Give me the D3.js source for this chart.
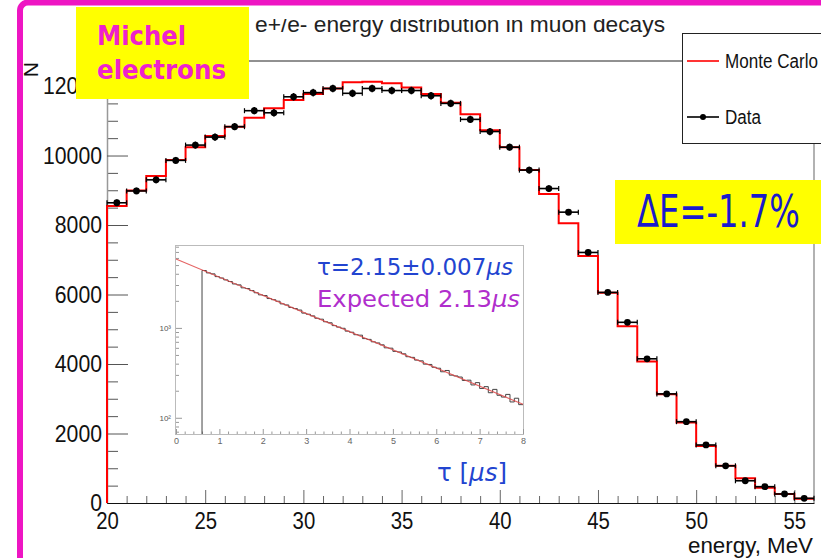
<!DOCTYPE html>
<html>
<head>
<meta charset="utf-8">
<script src="https://cdn.jsdelivr.net/npm/d3@7"></script>
<style>
  body { margin: 0; background: #fff; }
  svg { display: block; }
</style>
</head>
<body>
<div id="viz"></div>
<script>
// energy bins (low edges, MeV), bin width 1 MeV
var energyBins = [20, 21, 22, 23, 24, 25, 26, 27, 28, 29, 30, 31, 32, 33, 34, 35, 36, 37,
                  38, 39, 40, 41, 42, 43, 44, 45, 46, 47, 48, 49, 50, 51, 52, 53, 54, 55];

var monteCarlo = [8550, 8990, 9410, 9870, 10240, 10560, 10830, 11090, 11360, 11600, 11770, 11930,
                  12110, 12120, 12080, 11960, 11770, 11520, 11190, 10730, 10240, 9580, 8890, 8050,
                  7110, 6050, 5090, 4070, 3130, 2320, 1640, 1070, 710, 440, 260, 125];

var dataCounts = [8640, 8980, 9300, 9860, 10300, 10530, 10830, 11290, 11230, 11690, 11810, 11930,
                  11790, 11930, 11870, 11870, 11720, 11500, 11040, 10690, 10240, 9580, 9050, 8370,
                  7210, 6060, 5200, 4150, 3140, 2340, 1670, 1070, 640, 470, 260, 135];

var xTicks = [20, 25, 30, 35, 40, 45, 50, 55];
var yTicks = [0, 2000, 4000, 6000, 8000, 10000, 12000];

// inset: decay time histogram, bins of 0.1 us starting at 0.6 us
var decayStart = 0.6, decayWidth = 0.1;
var decayCounts = [4350, 4090, 3990, 3720, 3590, 3420, 3280, 3080, 3010, 2790,
                   2740, 2600, 2460, 2330, 2290, 2120, 2060, 1980, 1850, 1800,
                   1690, 1640, 1580, 1460, 1420, 1360, 1280, 1250, 1170, 1140,
                   1060, 1020, 990, 920, 895, 840, 830, 760, 745, 700,
                   680, 648, 600, 595, 548, 540, 515, 478, 470, 438,
                   430, 395, 392, 365, 356, 325, 336, 298, 292, 284,
                   260, 262, 232, 246, 212, 222, 190, 207, 178, 170,
                   182, 150, 165, 140];
var fitT = [0, 8];
var fitN = [5840, 141];
var insetXTicks = [0, 1, 2, 3, 4, 5, 6, 7, 8];

var rootFont = '"Liberation Sans", Arial, sans-serif',
    comicFont = '"DejaVu Sans", sans-serif',

    svg = d3.select('#viz')
        .append('svg')
            .attr('width', 821)
            .attr('height', 558),

    x = d3.scaleLinear().domain([20, 56]).range([107, 814]),
    y = d3.scaleLinear().domain([0, 12720]).range([503, 61]);

// squeeze ROOT-style tick labels to the narrow width of the original
var squeeze = function (sel, perChar) {
    sel.each(function () {
        var t = d3.select(this);
        t.attr('textLength', t.text().length * perChar).attr('lengthAdjust', 'spacingAndGlyphs');
    });
};

// ---- main frame
svg.append('line')
    .attr('x1', 107).attr('x2', 814).attr('y1', 61).attr('y2', 61)
    .style('stroke', '#222').style('stroke-width', 1);
svg.append('line')
    .attr('x1', 814).attr('x2', 814).attr('y1', 61).attr('y2', 503)
    .style('stroke', '#999').style('stroke-width', 1.5);

// ---- y axis
var yMinor = d3.range(0, 12720, 500).filter(function (d) { return d % 2000 !== 0; });

svg.append('g')
    .attr('transform', 'translate(107,0)')
    .call(d3.axisLeft(y).tickValues(yMinor).tickSize(-11).tickSizeOuter(0).tickFormat(''))
    .call(function (g) {
        g.select('.domain').remove();
        g.selectAll('line').style('stroke', '#555');
    });

svg.append('g')
    .attr('transform', 'translate(107,0)')
    .call(d3.axisLeft(y).tickValues(yTicks).tickSize(-21).tickSizeOuter(0).tickPadding(5)
        .tickFormat(d3.format('d')))
    .call(function (g) {
        g.select('.domain').style('stroke', '#999').style('stroke-width', 1.5);
        g.selectAll('line').style('stroke', '#555');
        g.selectAll('text')
            .style('font-family', rootFont)
            .style('font-size', '24px')
            .style('fill', '#111')
            .call(squeeze, 11.8);
    });

// ---- x axis
var xMinor = d3.range(21, 56, 1).filter(function (d) { return d % 5 !== 0; });

svg.append('g')
    .attr('transform', 'translate(0,503)')
    .call(d3.axisBottom(x).tickValues(xMinor).tickSize(-7).tickSizeOuter(0).tickFormat(''))
    .call(function (g) {
        g.select('.domain').remove();
        g.selectAll('line').style('stroke', '#666');
    });

svg.append('g')
    .attr('transform', 'translate(0,503)')
    .call(d3.axisBottom(x).tickValues(xTicks).tickSize(-13).tickSizeOuter(0).tickPadding(9))
    .call(function (g) {
        g.select('.domain').style('stroke', '#111').style('stroke-width', 1.2);
        g.selectAll('line').style('stroke', '#666');
        g.selectAll('text')
            .style('font-family', rootFont)
            .style('font-size', '24px')
            .style('fill', '#111')
            .call(squeeze, 11.3);
    });

svg.append('text')
    .attr('x', 813).attr('y', 553)
    .attr('text-anchor', 'end')
    .attr('textLength', 125).attr('lengthAdjust', 'spacingAndGlyphs')
    .style('font-family', rootFont).style('font-size', '22px').style('fill', '#111')
    .text('energy, MeV');

svg.append('text')
    .attr('transform', 'translate(38,62) rotate(-90)')
    .attr('text-anchor', 'end')
    .style('font-family', rootFont).style('font-size', '21px').style('fill', '#111')
    .text('N');

// ---- Monte Carlo histogram
var mcPoints = [[20, 0]];
energyBins.forEach(function (e, i) { mcPoints.push([e, monteCarlo[i]]); });
mcPoints.push([56, monteCarlo[monteCarlo.length - 1]]);

svg.append('path')
    .datum(mcPoints)
    .attr('d', d3.line()
        .x(function (d) { return x(d[0]); })
        .y(function (d) { return y(d[1]); })
        .curve(d3.curveStepAfter))
    .style('fill', 'none')
    .style('stroke', '#ff0000')
    .style('stroke-width', 2);

// ---- data points with error bars
var dots = svg.append('g').attr('class', 'dots');

energyBins.forEach(function (e, i) {
    var v = dataCounts[i],
        cy = y(v),
        err = Math.sqrt(v);

    dots.append('line')
        .attr('x1', x(e)).attr('x2', x(e + 1)).attr('y1', cy).attr('y2', cy)
        .style('stroke', '#000').style('stroke-width', 1.6);
    [e, e + 1].forEach(function (edge) {
        dots.append('line')
            .attr('x1', x(edge)).attr('x2', x(edge)).attr('y1', cy - 2.5).attr('y2', cy + 2.5)
            .style('stroke', '#000').style('stroke-width', 1.2);
    });
    dots.append('line')
        .attr('x1', x(e + 0.5)).attr('x2', x(e + 0.5)).attr('y1', y(v + err)).attr('y2', y(v - err))
        .style('stroke', '#000').style('stroke-width', 1.6);
    dots.append('circle')
        .attr('cx', x(e + 0.5)).attr('cy', cy).attr('r', 3.4)
        .style('fill', '#000');
});

// ---- legend
var legend = svg.append('g').attr('class', 'legend');
legend.append('rect')
    .attr('x', 682.5).attr('y', 33.5).attr('width', 160).attr('height', 110)
    .style('fill', '#fff').style('stroke', '#222').style('stroke-width', 1);
legend.append('line')
    .attr('x1', 687).attr('x2', 719).attr('y1', 61).attr('y2', 61)
    .style('stroke', '#ff0000').style('stroke-width', 1.6);
legend.append('text')
    .attr('x', 725).attr('y', 68)
    .attr('textLength', 93).attr('lengthAdjust', 'spacingAndGlyphs')
    .style('font-family', rootFont).style('font-size', '20px').style('fill', '#111')
    .text('Monte Carlo');
legend.append('line')
    .attr('x1', 687).attr('x2', 719).attr('y1', 117).attr('y2', 117)
    .style('stroke', '#000').style('stroke-width', 1.6);
legend.append('circle')
    .attr('cx', 703).attr('cy', 117).attr('r', 3)
    .style('fill', '#000');
legend.append('text')
    .attr('x', 725).attr('y', 124)
    .attr('textLength', 36).attr('lengthAdjust', 'spacingAndGlyphs')
    .style('font-family', rootFont).style('font-size', '20px').style('fill', '#111')
    .text('Data');

// ---- title (top of it is cut off in the original)
svg.append('clipPath').attr('id', 'titleClip')
    .append('rect').attr('x', 0).attr('y', 19).attr('width', 821).attr('height', 40);
svg.append('text')
    .attr('clip-path', 'url(#titleClip)')
    .attr('x', 255).attr('y', 32)
    .attr('textLength', 410).attr('lengthAdjust', 'spacingAndGlyphs')
    .style('font-family', rootFont).style('font-size', '22px').style('fill', '#222')
    .text('e+/e- energy distribution in muon decays');

// ---- inset: decay time
var tx = d3.scaleLinear().domain([0, 8]).range([176, 523]),
    ty = d3.scaleLog().domain([66, 8360]).range([434, 245]),
    inset = svg.append('g').attr('class', 'inset');

inset.append('rect')
    .attr('x', 175.5).attr('y', 245.5).attr('width', 348).attr('height', 189)
    .style('fill', '#fff').style('stroke', '#bbb').style('stroke-width', 1);

var insetMinorX = d3.range(0.2, 8, 0.2).filter(function (d) { return Math.abs(d - Math.round(d)) > 0.01; });
inset.append('g')
    .attr('transform', 'translate(0,434)')
    .call(d3.axisBottom(tx).tickValues(insetMinorX).tickSize(-2.5).tickSizeOuter(0).tickFormat(''))
    .call(function (g) {
        g.select('.domain').remove();
        g.selectAll('line').style('stroke', '#999');
    });
inset.append('g')
    .attr('transform', 'translate(0,434)')
    .call(d3.axisBottom(tx).tickValues(insetXTicks).tickSize(-5).tickSizeOuter(0).tickPadding(4))
    .call(function (g) {
        g.select('.domain').remove();
        g.selectAll('line').style('stroke', '#999');
        g.selectAll('text')
            .style('font-family', rootFont)
            .style('font-size', '9px')
            .style('fill', '#666');
    });

var insetMinorY = [70, 80, 90, 200, 300, 400, 500, 600, 700, 800, 900,
                   2000, 3000, 4000, 5000, 6000, 7000, 8000];
inset.append('g')
    .attr('transform', 'translate(176,0)')
    .call(d3.axisLeft(ty).tickValues(insetMinorY).tickSize(-3).tickSizeOuter(0).tickFormat(''))
    .call(function (g) {
        g.select('.domain').remove();
        g.selectAll('line').style('stroke', '#999');
    });
inset.append('g')
    .attr('transform', 'translate(176,0)')
    .call(d3.axisLeft(ty).tickValues([100, 1000]).tickSize(-6).tickSizeOuter(0).tickPadding(5)
        .tickFormat(function (d) { return d === 100 ? '10\u00B2' : '10\u00B3'; }))
    .call(function (g) {
        g.select('.domain').remove();
        g.selectAll('line').style('stroke', '#999');
        g.selectAll('text')
            .style('font-family', rootFont)
            .style('font-size', '8px')
            .style('fill', '#555');
    });

var decayPoints = [[decayStart, 66]];
decayCounts.forEach(function (c, i) { decayPoints.push([decayStart + i * decayWidth, c]); });
decayPoints.push([8, decayCounts[decayCounts.length - 1]]);

inset.append('path')
    .datum(decayPoints)
    .attr('d', d3.line()
        .x(function (d) { return tx(d[0]); })
        .y(function (d) { return ty(d[1]); })
        .curve(d3.curveStepAfter))
    .style('fill', 'none')
    .style('stroke', '#444')
    .style('stroke-width', 1);

inset.append('path')
    .datum(fitT.map(function (t, i) { return [t, fitN[i]]; }))
    .attr('d', d3.line()
        .x(function (d) { return tx(d[0]); })
        .y(function (d) { return ty(d[1]); }))
    .style('fill', 'none')
    .style('stroke', '#e04848')
    .style('stroke-width', 1.1)
    .style('opacity', 0.85);

var tauText = inset.append('text')
    .attr('x', 317).attr('y', 275)
    .attr('textLength', 196).attr('lengthAdjust', 'spacingAndGlyphs')
    .style('font-family', comicFont).style('font-size', '23px').style('fill', '#2244d0');
tauText.append('tspan').text('\u03C4=2.15\u00B10.007');
tauText.append('tspan').style('font-style', 'italic').text('\u03BCs');

var expText = inset.append('text')
    .attr('x', 317).attr('y', 307)
    .attr('textLength', 203).attr('lengthAdjust', 'spacingAndGlyphs')
    .style('font-family', comicFont).style('font-size', '23px').style('fill', '#b02ecc');
expText.append('tspan').text('Expected 2.13');
expText.append('tspan').style('font-style', 'italic').text('\u03BCs');

var tauAxis = svg.append('text')
    .attr('x', 437).attr('y', 481)
    .attr('textLength', 70).attr('lengthAdjust', 'spacingAndGlyphs')
    .style('font-family', comicFont).style('font-size', '25px').style('fill', '#2244d0');
tauAxis.append('tspan').text('\u03C4 [');
tauAxis.append('tspan').style('font-style', 'italic').text('\u03BCs');
tauAxis.append('tspan').text(']');

// ---- yellow labels
svg.append('rect')
    .attr('x', 76).attr('y', 7).attr('width', 173).attr('height', 92)
    .style('fill', '#ffff00');
svg.append('text')
    .attr('x', 97).attr('y', 45)
    .attr('textLength', 89).attr('lengthAdjust', 'spacingAndGlyphs')
    .style('font-family', comicFont).style('font-weight', 'bold').style('font-size', '27px').style('fill', '#ee22cc')
    .text('Michel');
svg.append('text')
    .attr('x', 97).attr('y', 79)
    .attr('textLength', 129).attr('lengthAdjust', 'spacingAndGlyphs')
    .style('font-family', comicFont).style('font-weight', 'bold').style('font-size', '27px').style('fill', '#ee22cc')
    .text('electrons');

svg.append('rect')
    .attr('x', 615).attr('y', 180).attr('width', 220).attr('height', 64)
    .style('fill', '#ffff00');
svg.append('text')
    .attr('x', 637).attr('y', 227)
    .attr('textLength', 163).attr('lengthAdjust', 'spacingAndGlyphs')
    .style('font-family', comicFont).style('font-size', '44px').style('fill', '#1a1acc')
    .text('\u0394E=-1.7%');

// ---- magenta slide border
svg.append('rect')
    .attr('x', 20).attr('y', 2.5).attr('width', 900).attr('height', 700).attr('rx', 8)
    .style('fill', 'none')
    .style('stroke', '#ee15c3')
    .style('stroke-width', 6);
</script>
</body>
</html>
